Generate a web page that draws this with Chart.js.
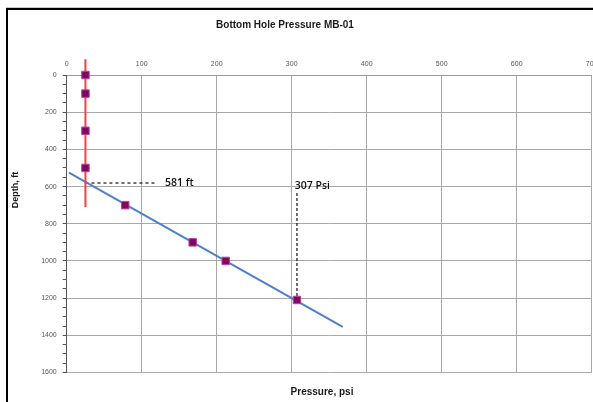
<!DOCTYPE html>
<html>
<head>
<meta charset="utf-8">
<script src="https://cdn.jsdelivr.net/npm/chart.js@4/dist/chart.umd.min.js"></script>
<style>
html,body{margin:0;padding:0;background:#fff;overflow:hidden;width:593px;height:402px;}
canvas{display:block;}
</style>
</head>
<body>
<canvas id="c" width="620" height="402"></canvas>
<script>
// ---- data ----
const chartTitle = "Bottom Hole Pressure MB-01";
const xAxisTitle = "Pressure, psi";
const yAxisTitle = "Depth, ft";
const measuredPressure = [25, 25, 25, 25, 78, 168, 212, 307];
const measuredDepth = [0, 100, 300, 500, 700, 900, 1000, 1210];
const gasGradPressure = [25, 25];
const gasGradDepth = [-85, 710];
const liquidGradPressure = [3, 368];
const liquidGradDepth = [525, 1355];
const contactDepthLine = [581, 581];
const contactPressureLine = [25, 120];
const bhpPressureLine = [307, 307];
const bhpDepthLine = [635, 1210];
const contactLabel = "581 ft";
const contactLabelPos = [131, 581];
const bhpLabel = "307 Psi";
const bhpLabelPos = [304, 597];
const xTicks = [0, 100, 200, 300, 400, 500, 600, 700];
const yTicks = [0, 200, 400, 600, 800, 1000, 1200, 1400, 1600];

const zip = (xs, ys) => xs.map((x, i) => ({x: x, y: ys[i]}));

const decor = {
  id: 'decor',
  beforeDraw(chart) {
    const ctx = chart.ctx;
    ctx.save();
    ctx.fillStyle = '#fff';
    ctx.fillRect(0, 0, chart.width, chart.height);
    ctx.fillStyle = '#c8c8c8';
    ctx.fillRect(6, 7, chart.width, 1);
    ctx.fillStyle = '#000';
    ctx.fillRect(6, 8, chart.width, 2);
    ctx.fillRect(6, 8, 2, chart.height);
    ctx.restore();
  },
  afterDraw(chart) {
    const ctx = chart.ctx;
    const xs = chart.scales.x, ys = chart.scales.y;
    ctx.save();
    ctx.fillStyle = '#1a1a1a';
    ctx.textBaseline = 'middle';
    ctx.textAlign = 'center';
    ctx.font = 'bold 10px "Liberation Sans", Arial, sans-serif';
    ctx.fillText(chartTitle, 285, 25);
    ctx.fillText(xAxisTitle, 322, 392);
    ctx.save();
    ctx.translate(16, 190);
    ctx.rotate(-Math.PI / 2);
    ctx.font = 'bold 9px "Liberation Sans", Arial, sans-serif';
    ctx.fillText(yAxisTitle, 0, 0);
    ctx.restore();
    ctx.textAlign = 'left';
    ctx.font = '600 10.5px "Open Sans", "Liberation Sans", sans-serif';
    ctx.fillStyle = '#111';
    ctx.fillText(contactLabel, xs.getPixelForValue(contactLabelPos[0]), ys.getPixelForValue(contactLabelPos[1]));
    ctx.fillText(bhpLabel, xs.getPixelForValue(bhpLabelPos[0]), ys.getPixelForValue(bhpLabelPos[1]));
    ctx.restore();
  }
};

new Chart(document.getElementById('c'), {
  type: 'scatter',
  data: {
    datasets: [
      {
        label: 'Measured',
        data: zip(measuredPressure, measuredDepth),
        pointStyle: 'rect',
        pointRadius: 5.3,
        pointHoverRadius: 5.3,
        backgroundColor: '#7d0a60',
        borderColor: '#b9439e',
        borderWidth: 1,
        showLine: false,
        clip: false
      },
      {
        label: 'Gas gradient',
        data: zip(gasGradPressure, gasGradDepth),
        showLine: true,
        borderColor: '#ff3b3b',
        borderWidth: 2,
        pointRadius: 0,
        clip: false
      },
      {
        label: 'Liquid gradient',
        data: zip(liquidGradPressure, liquidGradDepth),
        showLine: true,
        borderColor: '#4f7fc9',
        borderWidth: 2,
        pointRadius: 0,
        clip: false
      },
      {
        label: 'Contact',
        data: zip(contactPressureLine, contactDepthLine),
        showLine: true,
        borderColor: '#111',
        borderWidth: 1.2,
        borderDash: [3, 3],
        pointRadius: 0
      },
      {
        label: 'BHP',
        data: zip(bhpPressureLine, bhpDepthLine),
        showLine: true,
        borderColor: '#111',
        borderWidth: 1.2,
        borderDash: [3, 2],
        pointRadius: 0
      }
    ]
  },
  options: {
    responsive: false,
    animation: false,
    devicePixelRatio: 1,
    layout: {padding: {top: 55, left: 0, right: 28.3, bottom: 29.5}},
    plugins: {legend: {display: false}, tooltip: {enabled: false}, title: {display: false}},
    scales: {
      x: {
        type: 'linear',
        position: 'top',
        min: xTicks[0],
        max: xTicks[xTicks.length - 1],
        afterFit(s) { s.height = 20; },
        afterBuildTicks(s) { s.ticks = xTicks.map(v => ({value: v})); },
        ticks: {
          font: {size: 7, family: '"Liberation Sans", Arial, sans-serif'},
          color: '#555',
          padding: 7,
          maxRotation: 0,
          autoSkip: false
        },
        grid: {color: '#a8a8a8', lineWidth: 1, drawTicks: false},
        border: {color: '#9a9a9a', width: 1}
      },
      y: {
        type: 'linear',
        position: 'left',
        reverse: true,
        min: yTicks[0],
        max: yTicks[yTicks.length - 1],
        afterFit(s) { s.width = 66.7; },
        ticks: {
          stepSize: 50,
          autoSkip: false,
          font: {size: 7, family: '"Liberation Sans", Arial, sans-serif'},
          color: '#555',
          padding: 6,
          callback: (v) => (yTicks.includes(v) ? String(v) : '')
        },
        grid: {
          color: (c) => (c.tick && yTicks.includes(c.tick.value) ? '#a8a8a8' : 'rgba(0,0,0,0)'),
          tickColor: '#555',
          tickLength: 4,
          lineWidth: 1
        },
        border: {color: '#555', width: 1}
      }
    }
  },
  plugins: [decor]
});
</script>
</body>
</html>
